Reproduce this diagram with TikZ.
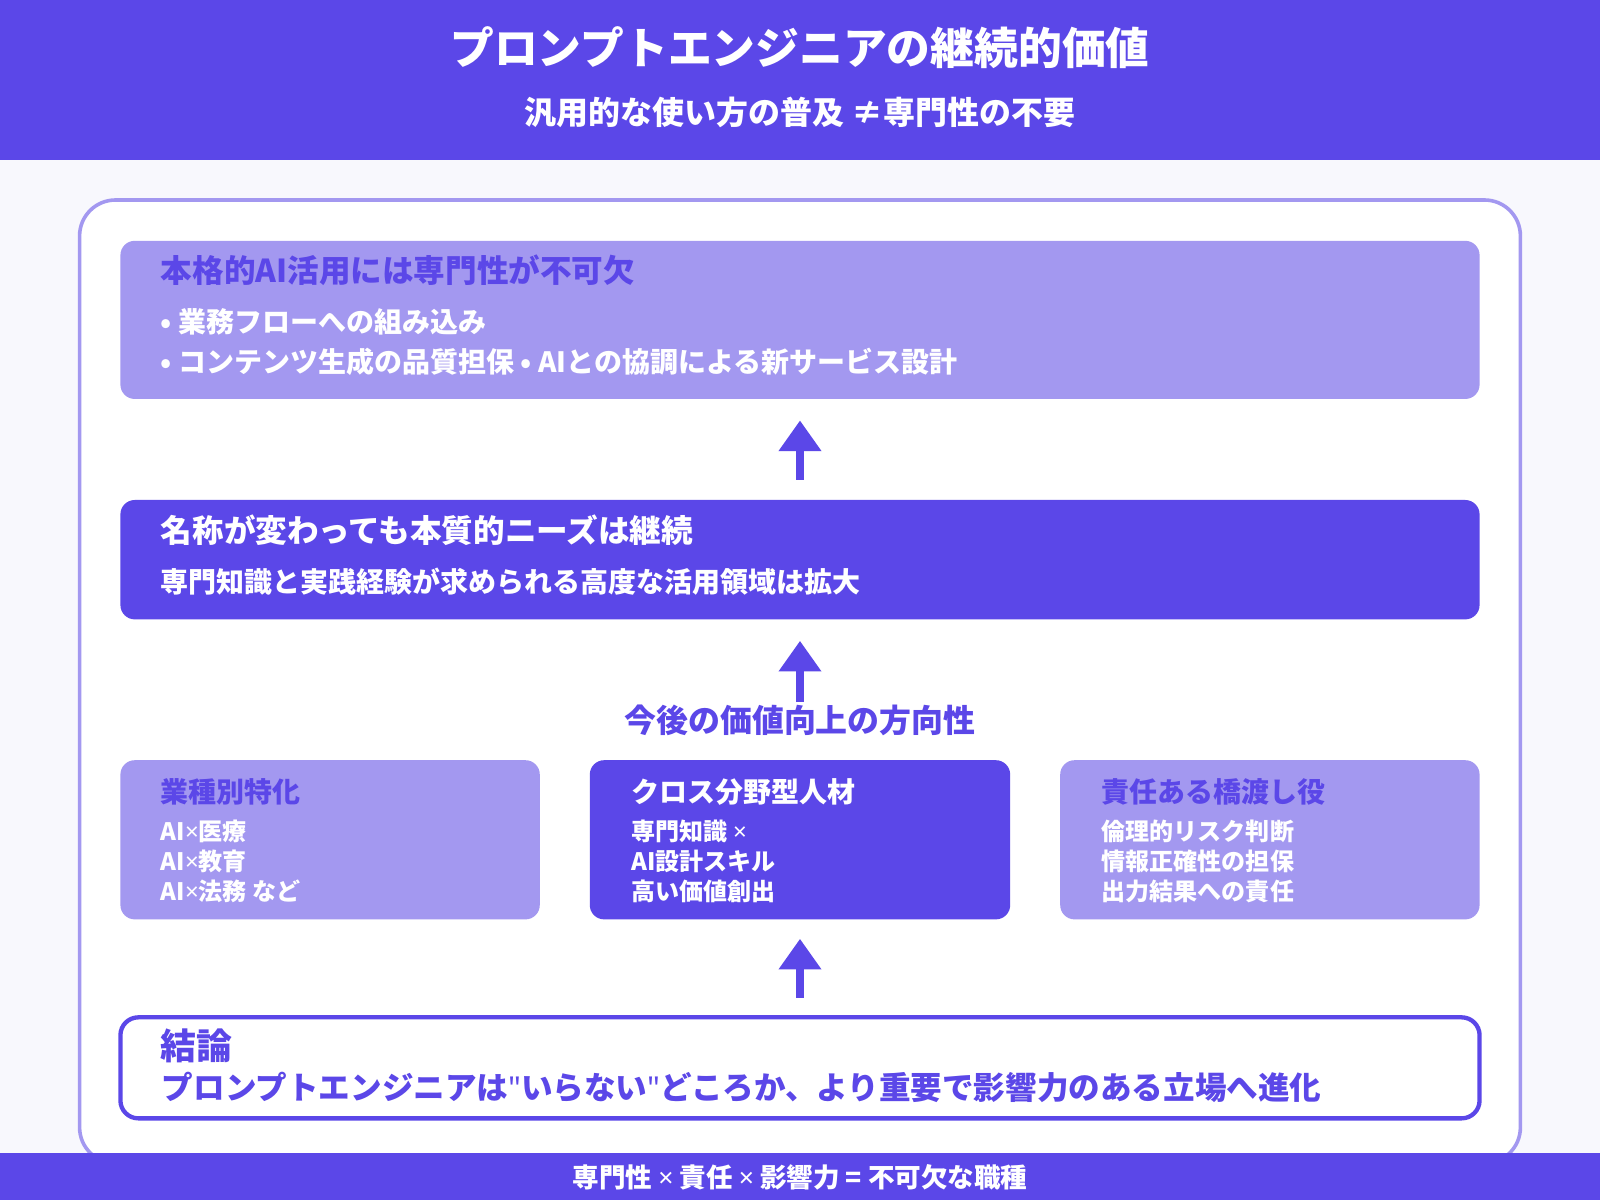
\documentclass[tikz,border=0pt]{standalone}
\usepackage{fontspec}
\setmainfont{Noto Sans CJK JP}
\newfontfamily\latinfont{Noto Sans}
\newcommand{\qt}{{\latinfont\symbol{34}}}
\newcommand{\tm}{{\latinfont ×}}
\usetikzlibrary{arrows.meta}
\definecolor{violet}{HTML}{5B47E8}
\definecolor{lilac}{HTML}{A398F0}
\definecolor{paper}{HTML}{F8F8FD}
\tikzset{
  card/.style={rounded corners=4pt, inner sep=0pt},
  head/.style={anchor=west, inner sep=0pt, font=\bfseries\fontsize{8.8pt}{10pt}\selectfont},
  line/.style={anchor=west, inner sep=0pt, text=white, font=\bfseries\fontsize{7.8pt}{9pt}\selectfont},
  small/.style={anchor=north west, inner sep=0pt, align=left, text=white, font=\bfseries\fontsize{6.7pt}{8.3pt}\selectfont},
  uparrow/.style={draw=violet, line width=2.3pt, -{Triangle[width=0.4cm,length=0.3cm]}}
}
\begin{document}
\begin{tikzpicture}[x=0.01cm,y=-0.01cm]
  % background and bands
  \fill[paper] (0,0) rectangle (1568,1176);
  \useasboundingbox (0,0) rectangle (1568,1176);
  \fill[violet] (0,0) rectangle (1568,157);
  \node[text=white, font=\bfseries\fontsize{12.2pt}{14pt}\selectfont] (title) at (784,47) {プロンプトエンジニアの継続的価値};
  \node[text=white, font=\bfseries\fontsize{8.9pt}{10pt}\selectfont] (subtitle) at (784,110) {汎用的な使い方の普及 ≠専門性の不要};
  \draw[lilac, line width=1pt, fill=white, rounded corners=10pt] (78,196) rectangle (1490,1140);
  \fill[violet] (0,1130) rectangle (1568,1176);
  \node[text=white, font=\bfseries\fontsize{7.4pt}{9pt}\selectfont] (footer) at (784,1154) {専門性 \tm{} 責任 \tm{} 影響力 = 不可欠な職種};

  % top box
  \fill[lilac, card] (118,236) rectangle (1450,391);
  \coordinate (need) at (784,391);
  \node[head, text=violet] (needtitle) at (157,265) {本格的AI活用には専門性が不可欠};
  \node[line] (needa) at (157,315) {• 業務フローへの組み込み};
  \node[line] (needb) at (157,355) {• コンテンツ生成の品質担保 • AIとの協調による新サービス設計};

  % middle box
  \fill[violet, card] (118,490) rectangle (1450,607);
  \coordinate (keep) at (784,490);
  \coordinate (keepbot) at (784,607);
  \node[head, text=white] (keeptitle) at (157,520) {名称が変わっても本質的ニーズは継続};
  \node[line] (keepline) at (157,570) {専門知識と実践経験が求められる高度な活用領域は拡大};

  \node[text=violet, inner sep=0pt, font=\bfseries\fontsize{8.9pt}{10pt}\selectfont] (direction) at (784,706) {今後の価値向上の方向性};

  % three cards
  \fill[lilac, card] (118,745) rectangle (529,901);
  \node[head, text=violet, font=\bfseries\fontsize{7.8pt}{9pt}\selectfont] (industry) at (157,776) {業種別特化};
  \node[small] (industrylist) at (157,803) {AI\tm 医療\\AI\tm 教育\\AI\tm 法務 など};

  \fill[violet, card] (578,745) rectangle (990,901);
  \coordinate (cross) at (784,901);
  \node[head, text=white, font=\bfseries\fontsize{7.8pt}{9pt}\selectfont] (crosstitle) at (618,776) {クロス分野型人材};
  \node[small] (crosslist) at (618,803) {専門知識 \tm\\AI設計スキル\\高い価値創出};

  \fill[lilac, card] (1039,745) rectangle (1450,901);
  \node[head, text=violet, font=\bfseries\fontsize{7.8pt}{9pt}\selectfont] (bridge) at (1079,776) {責任ある橋渡し役};
  \node[small] (bridgelist) at (1079,803) {倫理的リスク判断\\情報正確性の担保\\出力結果への責任};

  % conclusion
  \draw[violet, line width=1.2pt, fill=white, rounded corners=5pt] (118,997) rectangle (1450,1096);
  \coordinate (result) at (784,997);
  \node[head, text=violet, font=\bfseries\fontsize{10pt}{11pt}\selectfont] (resulttitle) at (157,1025) {結論};
  \node[head, text=violet] (resultline) at (158,1066) {プロンプトエンジニアは\qt いらない\qt どころか、より重要で影響力のある立場へ進化};

  % arrows
  \draw[uparrow, shorten <=0.2cm, shorten >=0.21cm] (keep) -- (need);
  \draw[uparrow, shorten <=0.02cm, shorten >=0.21cm] (direction.north) -- (keepbot);
  \draw[uparrow, shorten <=0.19cm, shorten >=0.19cm] (result) -- (cross);
\end{tikzpicture}
\end{document}
